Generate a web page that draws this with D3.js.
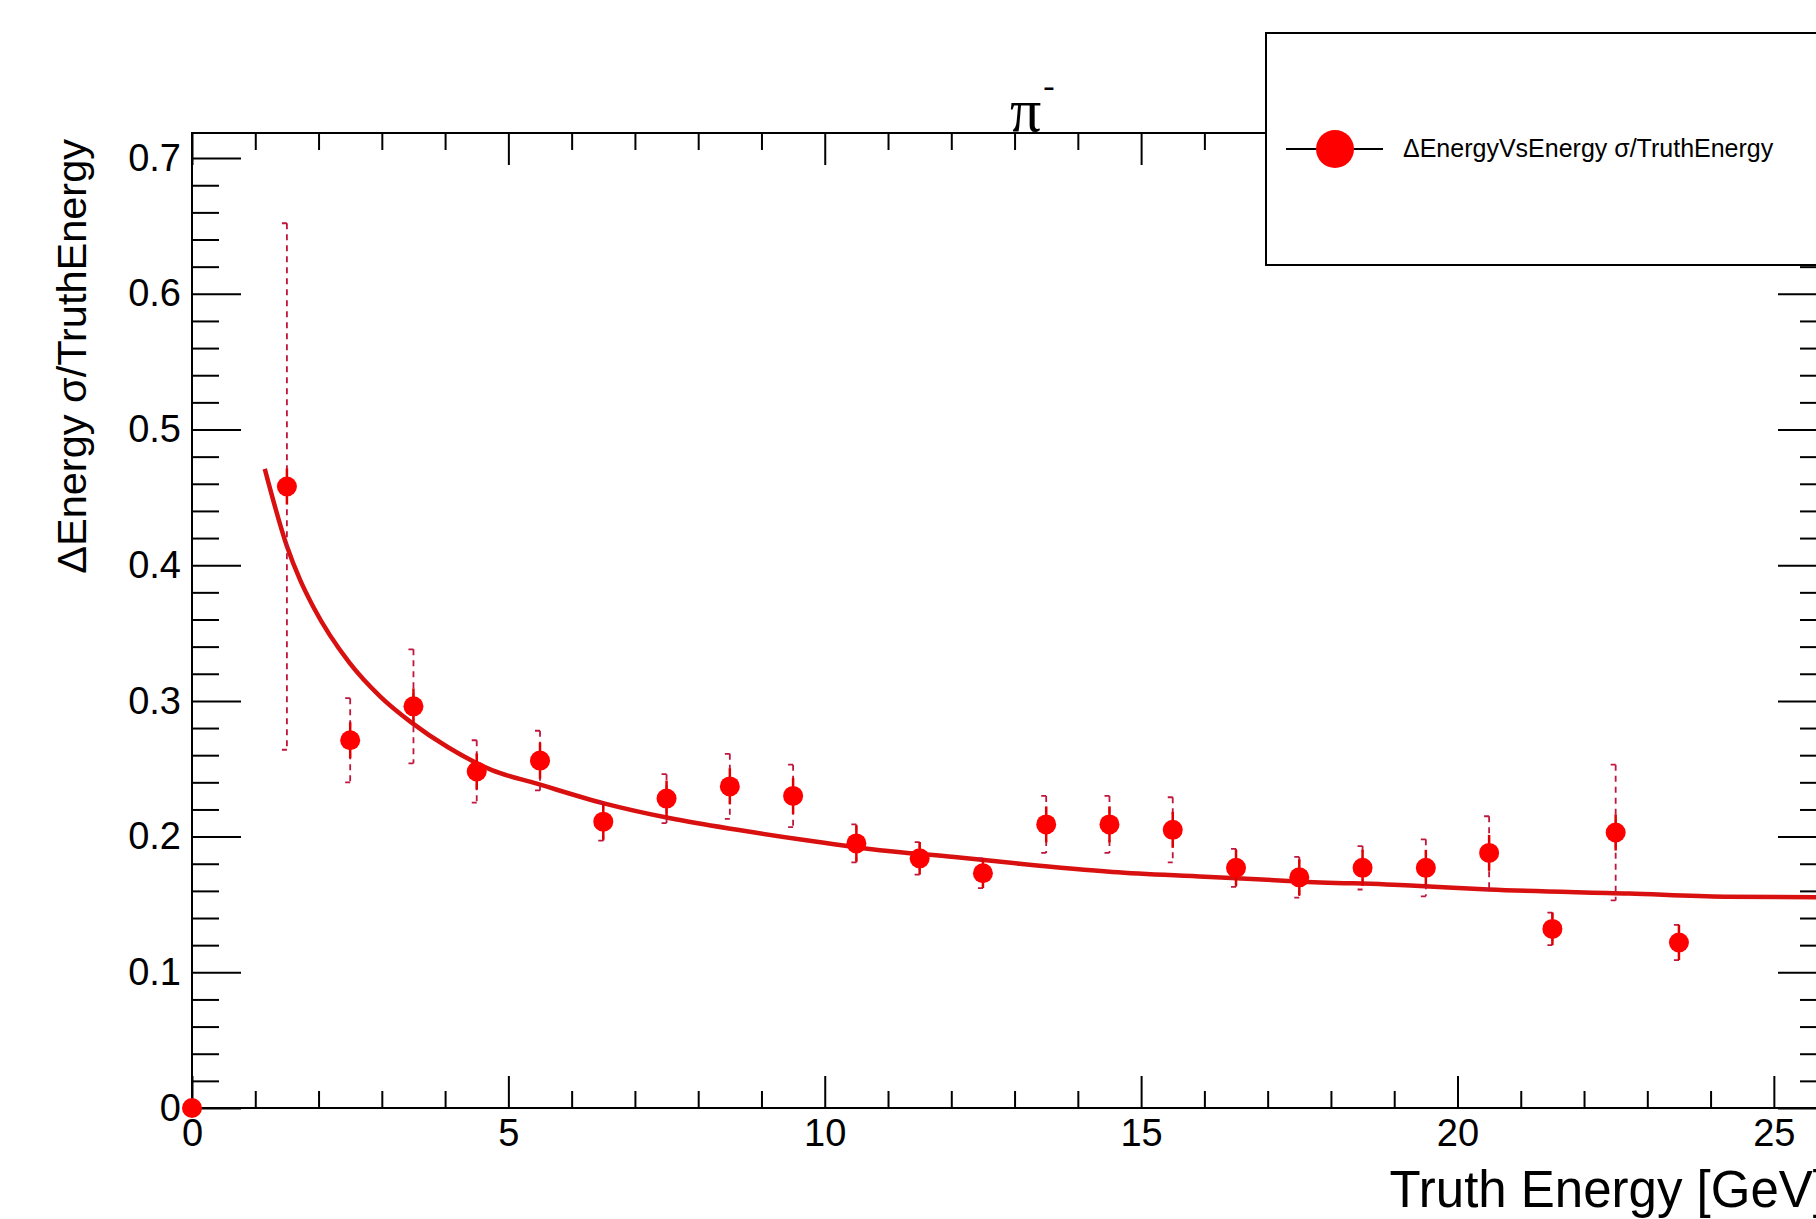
<!DOCTYPE html>
<meta charset="utf-8" />
<head>
  <style>
    body { margin: 0; background: #fff; }
    svg { display: block; }
    text { font-family: "Liberation Sans", Arial, Helvetica, sans-serif; fill: #000; }
    .tick line { stroke: #000; stroke-width: 2px; }
    .domain { stroke: none; }
  </style>
  <script src="https://cdn.jsdelivr.net/npm/d3@7/dist/d3.min.js"></script>
</head>
<body>
<script>
  // measured points: bin centre, sigma/E and its error
  var energies   = [0, 1.5, 2.5, 3.5, 4.5, 5.5, 6.5, 7.5, 8.5, 9.5, 10.5, 11.5, 12.5,
                    13.5, 14.5, 15.5, 16.5, 17.5, 18.5, 19.5, 20.5, 21.5, 22.5, 23.5];
  var sigmaRatio = [0, 0.458, 0.271, 0.296, 0.248, 0.256, 0.211, 0.228, 0.237, 0.230, 0.195, 0.184, 0.173,
                    0.209, 0.209, 0.205, 0.177, 0.170, 0.177, 0.177, 0.188, 0.132, 0.203, 0.122];
  var sigmaErr   = [0, 0.194, 0.031, 0.042, 0.023, 0.022, 0.014, 0.018, 0.024, 0.023, 0.014, 0.012, 0.011,
                    0.021, 0.021, 0.024, 0.014, 0.015, 0.016, 0.021, 0.027, 0.012, 0.050, 0.013];

  // fitted resolution curve
  var fitE     = [1.15, 1.5, 1.71, 1.92, 2.49, 2.98, 3.47, 4.04, 4.74, 5.45, 6.51, 7.56, 8.62,
                  9.68, 10.87, 12.05, 13.08, 14.55, 16.01, 17.47, 19.26, 20.49, 22.71, 24.22, 25.84];
  var fitSigma = [0.471, 0.414, 0.389, 0.369, 0.328, 0.303, 0.284, 0.266, 0.249, 0.239, 0.2245, 0.2135, 0.205,
                  0.1975, 0.190, 0.185, 0.180, 0.174, 0.1705, 0.167, 0.164, 0.161, 0.158, 0.1557, 0.1553];

  var xMajor = [0, 5, 10, 15, 20, 25];
  var yMajor = [0, 0.1, 0.2, 0.3, 0.4, 0.5, 0.6, 0.7];

  var W = 1816, H = 1219;
  var fLeft = 192, fRight = 1827, fTop = 133, fBottom = 1108;

  var x = d3.scaleLinear().domain([0, 25.84]).range([fLeft, fRight]);
  var y = d3.scaleLinear().domain([0, 0.7185]).range([fBottom, fTop]);

  var svg = d3.select("body").append("svg")
    .attr("width", W).attr("height", H);

  svg.append("rect").attr("width", W).attr("height", H).attr("fill", "#fff");

  var xMinor = d3.range(0, 26, 1).filter(function(d) { return d % 5 != 0; });
  var yMinor = d3.range(0, 36).map(function(i) { return i * 0.02; })
    .filter(function(d, i) { return i % 5 != 0 && d < 0.7185; });

  // ticks pointing into the frame on all four sides
  function ticks(axis, tr) {
    var g = svg.append("g").attr("transform", tr).call(axis);
    g.selectAll("text").attr("font-size", 38);
    return g;
  }
  ticks(d3.axisBottom(x).tickValues(xMajor).tickSize(-32).tickPadding(11)
        .tickFormat(d3.format("d")), "translate(0," + fBottom + ")");
  ticks(d3.axisBottom(x).tickValues(xMinor).tickSize(-17).tickFormat(""), "translate(0," + fBottom + ")");
  ticks(d3.axisTop(x).tickValues(xMajor).tickSize(-32).tickFormat(""), "translate(0," + fTop + ")");
  ticks(d3.axisTop(x).tickValues(xMinor).tickSize(-17).tickFormat(""), "translate(0," + fTop + ")");
  ticks(d3.axisLeft(y).tickValues(yMajor).tickSize(-49).tickPadding(11)
        .tickFormat(function(d) { return d == 0 ? "0" : d3.format(".1f")(d); }), "translate(" + fLeft + ",0)");
  ticks(d3.axisLeft(y).tickValues(yMinor).tickSize(-27).tickFormat(""), "translate(" + fLeft + ",0)");
  ticks(d3.axisRight(y).tickValues(yMajor).tickSize(-49).tickFormat(""), "translate(" + fRight + ",0)");
  ticks(d3.axisRight(y).tickValues(yMinor).tickSize(-27).tickFormat(""), "translate(" + fRight + ",0)");

  svg.append("rect")
    .attr("x", fLeft).attr("y", fTop)
    .attr("width", fRight - fLeft).attr("height", fBottom - fTop)
    .attr("fill", "none").attr("stroke", "#000").attr("stroke-width", 2);

  // axis titles
  svg.append("text")
    .attr("x", fRight).attr("y", 1207)
    .attr("text-anchor", "end").attr("font-size", 51)
    .text("Truth Energy [GeV]");

  svg.append("text")
    .attr("transform", "translate(86,139) rotate(-90)")
    .attr("text-anchor", "end").attr("font-size", 41.5)
    .text("\u0394Energy \u03c3/TruthEnergy");

  // title
  var title = svg.append("text")
    .attr("x", 1010).attr("y", 131)
    .style("font-family", "'Liberation Serif', 'Times New Roman', serif")
    .attr("font-size", 62);
  title.append("tspan").text("\u03c0");
  title.append("tspan").attr("font-size", 34).attr("dy", -34).attr("dx", 2).text("-");

  var plot = svg.append("g");
  svg.append("clipPath").attr("id", "clip").append("rect")
    .attr("x", fLeft).attr("y", fTop).attr("width", fRight - fLeft).attr("height", fBottom - fTop);

  // fit curve
  var fit = fitE.map(function(e, i) { return [e, fitSigma[i]]; });
  plot.append("path")
    .datum(fit)
    .attr("clip-path", "url(#clip)")
    .attr("fill", "none").attr("stroke", "#d81010").attr("stroke-width", 4.5)
    .attr("d", d3.line().x(function(d) { return x(d[0]); }).y(function(d) { return y(d[1]); })
      .curve(d3.curveMonotoneX));

  var pts = energies.map(function(e, i) { return { e: e, s: sigmaRatio[i], err: sigmaErr[i] }; });
  var withErr = pts.filter(function(d) { return d.err > 0; });

  // dashed error bars with small left caps
  var bars = plot.selectAll(".err").data(withErr).enter().append("g").attr("class", "err");
  bars.append("path")
    .attr("fill", "none").attr("stroke", "#c0163c").attr("stroke-width", 1.8)
    .attr("stroke-dasharray", "6,5")
    .attr("d", function(d) {
      var cx = x(d.e), y0 = y(d.s - d.err), y1 = y(d.s + d.err);
      return "M" + cx + "," + y1 + "V" + y0;
    });
  bars.append("path")
    .attr("fill", "none").attr("stroke", "#c0163c").attr("stroke-width", 1.8)
    .attr("d", function(d) {
      var cx = x(d.e), y0 = y(d.s - d.err), y1 = y(d.s + d.err);
      return "M" + (cx - 5) + "," + y1 + "H" + cx + "M" + (cx - 5) + "," + y0 + "H" + cx;
    });
  bars.append("path")
    .attr("fill", "none").attr("stroke", "#e00000").attr("stroke-width", 2.5)
    .attr("d", function(d) {
      var cx = x(d.e), cy = y(d.s), h = Math.min(18, y(d.s - d.err) - cy);
      return "M" + cx + "," + (cy - h) + "V" + (cy + h);
    });

  plot.selectAll(".pt").data(pts).enter().append("circle")
    .attr("class", "pt")
    .attr("cx", function(d) { return x(d.e); })
    .attr("cy", function(d) { return y(d.s); })
    .attr("r", 10)
    .attr("fill", "#ff0000");

  // legend box
  var lg = svg.append("g");
  lg.append("rect")
    .attr("x", 1266).attr("y", 33).attr("width", 580).attr("height", 232)
    .attr("fill", "#fff").attr("stroke", "#000").attr("stroke-width", 2);
  lg.append("line")
    .attr("x1", 1286).attr("x2", 1383).attr("y1", 149).attr("y2", 149)
    .attr("stroke", "#000").attr("stroke-width", 2);
  lg.append("circle")
    .attr("cx", 1335).attr("cy", 149).attr("r", 19).attr("fill", "#ff0000");
  lg.append("text")
    .attr("x", 1403).attr("y", 157).attr("font-size", 25).attr("fill", "#222")
    .text("\u0394EnergyVsEnergy \u03c3/TruthEnergy");
</script>
</body>
